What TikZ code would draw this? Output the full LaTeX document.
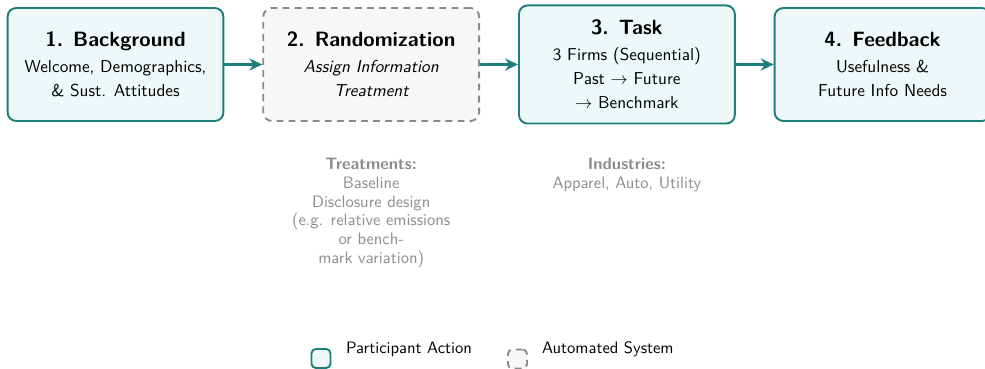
\documentclass[tikz,border=0pt]{standalone}
\usepackage{xcolor}
\usepackage{tikz}
\usetikzlibrary{arrows.meta,positioning}
\definecolor{tealc}{HTML}{1C7F7B}
\definecolor{tealf}{HTML}{EEF8F8}
\definecolor{autof}{HTML}{F7F7F7}
\definecolor{autod}{HTML}{8A8A8A}
\definecolor{notec}{HTML}{8C8C8C}
\newcommand{\notefont}{\fontsize{9.6}{10.9}\selectfont}

\begin{document}
\begin{tikzpicture}[x=0.58pt,y=-0.58pt,font=\sffamily,
  node distance=22pt,
  act/.style={draw=tealc,fill=tealf,line width=1.1pt,rounded corners=5pt,
    minimum width=125.2pt,minimum height=65.5pt,align=center,inner sep=2pt},
  auto/.style={act,draw=autod,fill=autof,dash pattern=on 4pt off 3pt},
  flow/.style={-{Stealth[length=7.5pt,width=7pt]},tealc,line width=1.2pt},
  note/.style={text=notec,align=center,font=\sffamily\notefont}]
  \useasboundingbox (0,0) rectangle (985,369);
  % stages
  \node[act] (bg) at (115.5,64.5) {{\large\bfseries 1. Background}\\[3pt]
    Welcome, Demographics,\\[2pt] \& Sust. Attitudes};
  \node[auto,right=of bg] (rnd) {{\large\bfseries 2. Randomization}\\[3pt]
    \itshape Assign Information\\[2pt] \itshape Treatment};
  \node[act,right=of rnd,minimum height=68.5pt] (task) {{\large\bfseries 3. Task}\\[3pt]
    3 Firms (Sequential)\\[2pt] Past $\rightarrow$ Future\\[2pt] $\rightarrow$ Benchmark};
  \node[act,right=of task] (fb) {{\large\bfseries 4. Feedback}\\[3pt]
    Usefulness \&\\[2pt] Future Info Needs};
  \foreach \a/\b in {bg/rnd,rnd/task,task/fb}
    \draw[flow] (\a) -- (\b);
  % notes
  \node[note,below=17.5pt of rnd] (trt) {\textbf{Treatments:}\\ Baseline\\ Disclosure design\\
    (e.g. relative emissions\\ or bench-\\ mark variation)};
  \node[note,below=17.5pt of task.south|-rnd.south] (ind) {\textbf{Industries:}\\ Apparel, Auto, Utility};
  % legend
  \node[draw=tealc,fill=tealf,line width=1.1pt,rounded corners=2.5pt,
    minimum size=11pt,inner sep=0pt] (lga) at (321,358.5) {};
  \node[anchor=west,font=\sffamily\notefont] (lgat) at (340,349) {Participant Action};
  \node[draw=autod,fill=autof,line width=1.1pt,dash pattern=on 4pt off 3pt,rounded corners=2.5pt,
    minimum size=11pt,inner sep=0pt] (lgb) at (517.5,359) {};
  \node[anchor=west,font=\sffamily\notefont] (lgbt) at (536,349) {Automated System};
\end{tikzpicture}
\end{document}
